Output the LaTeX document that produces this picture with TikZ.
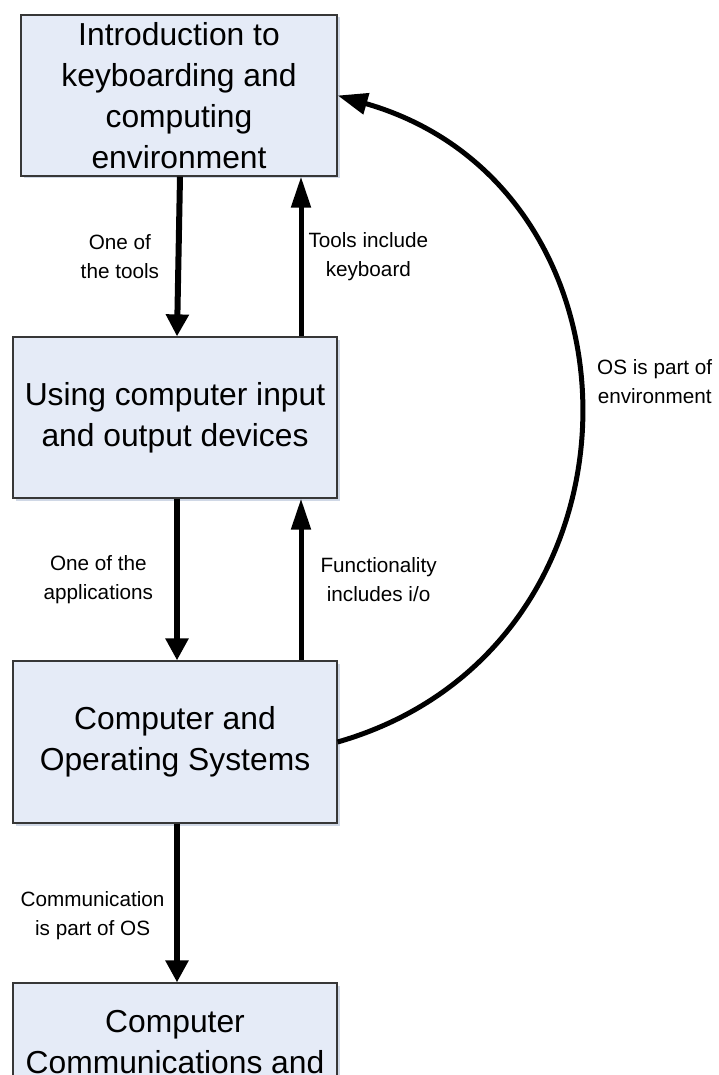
\documentclass[tikz,border=0pt]{standalone}
\usepackage{fontspec}
\setmainfont{Liberation Sans}
\usetikzlibrary{arrows.meta,shadows}
\definecolor{boxfill}{RGB}{229,235,247}
\definecolor{boxshade}{RGB}{208,216,230}
\definecolor{boxline}{RGB}{55,55,55}
\begin{document}
\begin{tikzpicture}[x=1pt,y=-1pt,
  topic/.style={draw=boxline, line width=1.2pt, fill=boxfill, inner sep=0pt,
    align=center, font=\fontsize{31.8}{41}\selectfont,
    general shadow={fill=boxshade, shadow xshift=2.5pt, shadow yshift=-2.5pt}},
  topictext/.style={inner sep=0pt, font=\fontsize{31.8}{41}\selectfont, anchor=base},
  down/.style={line width=6pt, -{Triangle[length=22pt,width=22pt]}},
  up/.style={line width=5pt, -{Triangle[length=31pt,width=19pt]}},
  loopback/.style={line width=5pt, -{Triangle[length=30pt,width=21pt]}},
  note/.style={font=\fontsize{20.7}{29}\selectfont, align=center, inner sep=0pt},
]
\useasboundingbox (0,0) rectangle (719,1075);
\clip (0,0) rectangle (719,1075);

% topic boxes
\node[topic, minimum width=316pt, minimum height=161pt] (b1) at (179,95.5)
  {Introduction to\\keyboarding and\\computing\\environment};
\node[topic, minimum width=324pt, minimum height=161pt] (b2) at (175,417.5)
  {Using computer input\\and output devices};
\node[topic, minimum width=324pt, minimum height=162pt] (b3) at (175,742)
  {Computer and\\Operating Systems};
\node[topic, minimum width=324pt, minimum height=161pt] (b4) at (175,1063.5) {};
\node[topictext] (b4a) at (175,1032) {Computer};
\node[topictext] (b4b) at (175,1073) {Communications and};

% links between neighbouring topics
\draw[down] ([xshift=1pt]b1.south) -- ([xshift=2pt]b2.north)
  node[note, midway, anchor=east, xshift=-16.5pt] {One of\\the tools};
\draw[up] ([xshift=126pt]b2.north) -- ([xshift=122pt]b1.south)
  node[note, midway, anchor=west, xshift=5pt] {Tools include\\keyboard};
\draw[down] ([xshift=2pt]b2.south) -- ([xshift=2pt]b3.north)
  node[note, midway, anchor=east, xshift=-21pt] {One of the\\applications};
\draw[up] ([xshift=126pt]b3.north) -- ([xshift=126pt]b2.south)
  node[note, midway, anchor=west, xshift=17pt] {Functionality\\includes i/o};
\draw[down] ([xshift=2pt]b3.south) -- ([xshift=2pt]b4.north)
  node[note, midway, anchor=east, xshift=-9.5pt, yshift=-13pt] {Communication\\is part of OS};

% operating system back to the environment
\draw[loopback] (b3.east) to[out=16, in=-16, looseness=1.33] (b1.east);
\node[note, anchor=west] (envnote) at (597,382) {OS is part of\\environment};
\end{tikzpicture}
\end{document}
